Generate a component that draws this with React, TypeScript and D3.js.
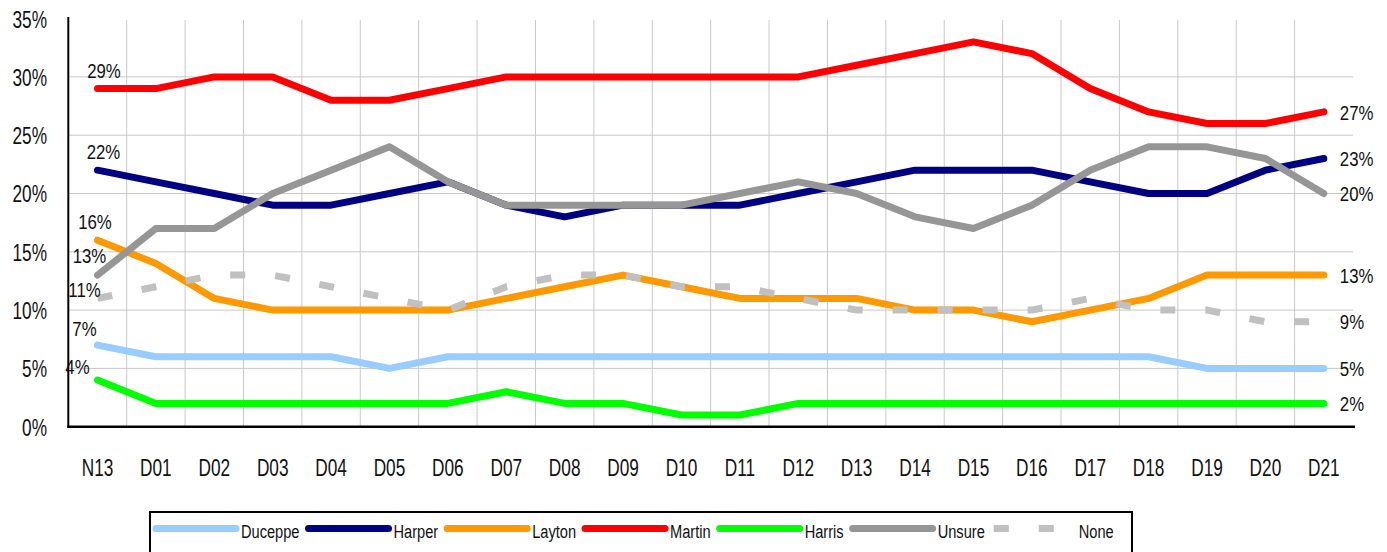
import { useEffect, useRef } from 'react';
import * as d3 from 'd3';

// poll data, percent
const categories = ['N13', 'D01', 'D02', 'D03', 'D04', 'D05', 'D06', 'D07', 'D08', 'D09', 'D10', 'D11', 'D12', 'D13', 'D14', 'D15', 'D16', 'D17', 'D18', 'D19', 'D20', 'D21'];
const duceppe = [7, 6, 6, 6, 6, 5, 6, 6, 6, 6, 6, 6, 6, 6, 6, 6, 6, 6, 6, 5, 5, 5];
const harper = [22, 21, 20, 19, 19, 20, 21, 19, 18, 19, 19, 19, 20, 21, 22, 22, 22, 21, 20, 20, 22, 23];
const layton = [16, 14, 11, 10, 10, 10, 10, 11, 12, 13, 12, 11, 11, 11, 10, 10, 9, 10, 11, 13, 13, 13];
const martin = [29, 29, 30, 30, 28, 28, 29, 30, 30, 30, 30, 30, 30, 31, 32, 33, 32, 29, 27, 26, 26, 27];
const harris = [4, 2, 2, 2, 2, 2, 2, 3, 2, 2, 1, 1, 2, 2, 2, 2, 2, 2, 2, 2, 2, 2];
const unsure = [13, 17, 17, 20, 22, 24, 21, 19, 19, 19, 19, 20, 21, 20, 18, 17, 19, 22, 24, 24, 23, 20];
const none = [11, 12, 13, 13, 12, 11, 10, 12, 13, 13, 12, 12, 11, 10, 10, 10, 10, 11, 10, 10, 9, 9];

const seriesNames = ['Duceppe', 'Harper', 'Layton', 'Martin', 'Harris', 'Unsure', 'None'];
const seriesValues = [duceppe, harper, layton, martin, harris, unsure, none];
const seriesColors = ['#99CCFF', '#000080', '#FF9900', '#FF0000', '#00FF00', '#969696', '#C0C0C0'];
const yTicks = [0, 5, 10, 15, 20, 25, 30, 35];

const W = 1387;
const H = 552;
const FONT = '"Liberation Sans", Arial, sans-serif';

// where the first-point labels sit relative to their point (hand-placed in the original)
const firstLabelShift: Record<string, [number, number]> = {
  Duceppe: [-13, -16],
  Harper: [6, -18],
  Layton: [-2.5, -18],
  Martin: [6.5, -18],
  Harris: [-20, -13],
  Unsure: [-8, -19],
  None: [-13, -9],
};

type Sel = d3.Selection<any, unknown, null, undefined>;

// condensed look: squeeze Liberation Sans horizontally
const addText = (
  g: Sel, x: number, y: number, str: string, size: number, sx: number,
  anchor: 'start' | 'middle' | 'end' = 'start',
) =>
  g.append('text')
    .attr('transform', `translate(${x},${y}) scale(${sx},1)`)
    .attr('text-anchor', anchor)
    .attr('dominant-baseline', 'central')
    .attr('font-family', FONT)
    .attr('font-size', size)
    .attr('fill', '#111')
    .text(str);

const App = () => {
  const svgRef = useRef<SVGSVGElement>(null);

  useEffect(() => {
    const svg = d3.select(svgRef.current) as unknown as Sel;
    svg.selectAll('*').remove();

    const x = d3.scaleBand<string>().domain(categories).range([68.3, 1353]);
    const y = d3.scaleLinear().domain([0, 35]).range([426.7, 18.6]);
    const cx = (i: number) => (x(categories[i]) as number) + x.bandwidth() / 2;

    // grid
    svg.append('g')
      .selectAll('line')
      .data(yTicks.filter(t => t > 0 && t < 35))
      .join('line')
      .attr('x1', 68.3).attr('x2', 1353)
      .attr('y1', d => y(d)).attr('y2', d => y(d))
      .attr('stroke', '#c8c8c8').attr('stroke-width', 1);

    svg.append('g')
      .selectAll('line')
      .data(categories.slice(1))
      .join('line')
      .attr('x1', d => x(d) as number).attr('x2', d => x(d) as number)
      .attr('y1', y(35) + 1.5).attr('y2', y(0))
      .attr('stroke', '#c8c8c8').attr('stroke-width', 1);

    // tick labels
    yTicks.forEach(t => addText(svg, 47, y(t) + 1, `${t}%`, 23, 0.75, 'end'));
    categories.forEach((c, i) => addText(svg, cx(i), 468, c, 23, 0.75, 'middle'));

    // axis lines
    svg.append('line')
      .attr('x1', 68.3).attr('x2', 68.3).attr('y1', 17).attr('y2', y(0) + 1)
      .attr('stroke', '#000').attr('stroke-width', 2);
    svg.append('line')
      .attr('x1', 67.3).attr('x2', 1355).attr('y1', y(0)).attr('y2', y(0))
      .attr('stroke', '#000').attr('stroke-width', 2.5);

    // series
    const line = d3.line<number>().x((d, i) => cx(i)).y(d => y(d));
    seriesNames.forEach((name, si) => {
      const dashed = name === 'None';
      svg.append('path')
        .attr('d', line(seriesValues[si]) as string)
        .attr('fill', 'none')
        .attr('stroke', seriesColors[si])
        .attr('stroke-width', 7)
        .attr('stroke-linecap', dashed ? 'butt' : 'round')
        .attr('stroke-linejoin', 'round')
        .attr('stroke-dasharray', dashed ? '15,30' : null);
    });

    // data labels at the first and last point
    const last = categories.length - 1;
    seriesNames.forEach((name, si) => {
      const vals = seriesValues[si];
      const [dx, dy] = firstLabelShift[name];
      addText(svg, cx(0) + dx, y(vals[0]) + dy, `${vals[0]}%`, 21, 0.8, 'middle');
      addText(svg, cx(last) + 16, y(vals[last]) + 0.5, `${vals[last]}%`, 21, 0.8, 'start');
    });

    // legend
    svg.append('rect')
      .attr('x', 150).attr('y', 512).attr('width', 982).attr('height', 60)
      .attr('fill', '#fff').attr('stroke', '#000').attr('stroke-width', 2);

    let lx = 156;
    const ly = 528.5;
    seriesNames.forEach((name, si) => {
      const dashed = name === 'None';
      svg.append('line')
        .attr('x1', lx).attr('x2', lx + 80).attr('y1', ly).attr('y2', ly)
        .attr('stroke', seriesColors[si]).attr('stroke-width', 7)
        .attr('stroke-linecap', dashed ? 'butt' : 'round')
        .attr('stroke-dasharray', dashed ? '15,30' : null);
      const t = addText(svg, lx + 85, ly + 3, name, 19, 0.77, 'start');
      const w = (t.node() as SVGTextElement).getComputedTextLength() * 0.77;
      lx += 85 + w + 9;
    });
  }, []);

  return (
    <svg
      ref={svgRef}
      width={W}
      height={H}
      style={{ position: 'absolute', left: 0, top: 0, display: 'block', background: '#fff' }}
    />
  );
};

export default App;
